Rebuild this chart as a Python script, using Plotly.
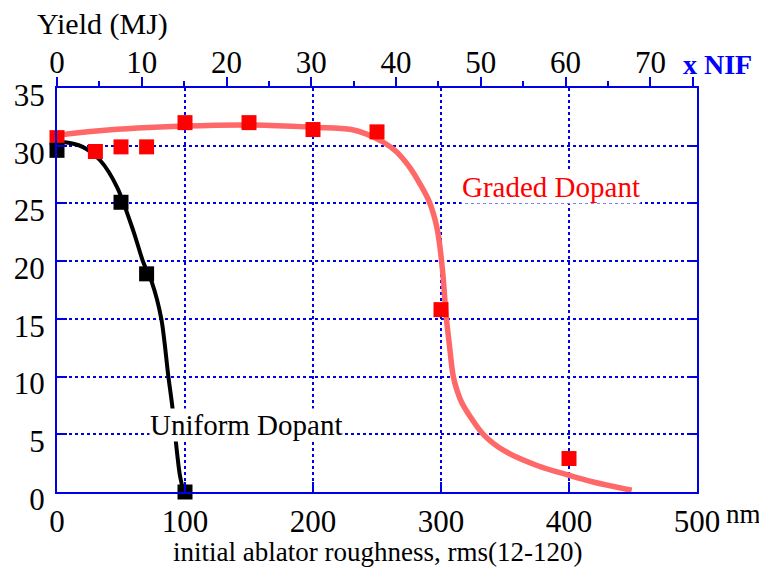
import plotly.graph_objects as go

# ---- data ----
graded_x = [0, 30, 50, 70, 100, 150, 200, 250, 300, 400]
graded_y = [30.7, 29.5, 29.9, 29.9, 32.0, 32.0, 31.4, 31.2, 15.8, 2.9]

uniform_x = [0, 50, 70, 100]
uniform_y = [29.6, 25.1, 18.9, 0.0]

graded_fit_x = [0, 33, 100, 150, 200, 230, 242, 255, 265, 275, 284, 291, 297, 301, 304,
                306.5, 309.6, 312.5, 316, 323, 333, 349, 375, 400, 419, 449]
graded_fit_y = [30.9, 31.3, 31.7, 31.8, 31.6, 31.4, 31.0, 30.3, 29.5, 28.2, 26.6, 25.1, 22.8, 19.4, 15.3,
                12.8, 10.0, 8.8, 7.8, 6.5, 5.0, 3.6, 2.3, 1.45, 0.87, 0.15]

uniform_fit_x = [0, 6, 20, 34, 47, 60, 67.4, 74, 81.5, 87, 90, 93, 96, 98.5]
uniform_fit_y = [30.2, 30.3, 29.9, 28.7, 26.4, 22.5, 19.9, 18.2, 15.0, 10.0, 7.5, 4.2, 1.45, 0.2]

x_ticks = [0, 100, 200, 300, 400, 500]
y_ticks = [0, 5, 10, 15, 20, 25, 30, 35]
nif_ticks = [0, 10, 20, 30, 40, 50, 60, 70, 75]
nif_labels = ["0", "10", "20", "30", "40", "50", "60", "70", ""]

BLUE = "#0000E6"
FONT = "Liberation Serif"
TICK = 31

fig = go.Figure()

fig.add_trace(go.Scatter(x=graded_fit_x, y=graded_fit_y, mode="lines",
                         line=dict(color="#FF6868", width=5.5, shape="spline", smoothing=1.0),
                         showlegend=False, hoverinfo="skip"))
fig.add_trace(go.Scatter(x=uniform_fit_x, y=uniform_fit_y, mode="lines",
                         line=dict(color="black", width=4, shape="spline", smoothing=0.8),
                         showlegend=False, hoverinfo="skip"))
fig.add_trace(go.Scatter(x=graded_x, y=graded_y, mode="markers",
                         marker=dict(symbol="square", size=15, color="#FF0000"),
                         cliponaxis=False, showlegend=False))
fig.add_trace(go.Scatter(x=uniform_x, y=uniform_y, mode="markers",
                         marker=dict(symbol="square", size=15, color="black"),
                         cliponaxis=False, showlegend=False))
# invisible trace for the top axis
fig.add_trace(go.Scatter(x=[0], y=[0], xaxis="x2", mode="markers",
                         marker=dict(opacity=0), showlegend=False, hoverinfo="skip"))

fig.update_layout(
    width=759, height=566,
    margin=dict(l=49, r=70, t=80, b=82),
    paper_bgcolor="white", plot_bgcolor="white",
    font=dict(family=FONT, size=TICK, color="black"),
    xaxis=dict(range=[0, 500], tickvals=x_ticks, ticktext=[str(v) for v in x_ticks],
               showline=True, linecolor=BLUE, linewidth=2, mirror=True,
               ticks="inside", ticklen=10, tickcolor=BLUE, tickwidth=1.5,
               showgrid=True, gridcolor=BLUE, gridwidth=1.5, griddash="3px,3px",
               zeroline=False, ticklabelstandoff=1, automargin=False,
               tickfont=dict(family=FONT, size=TICK, color="black")),
    yaxis=dict(range=[0, 35], tickvals=y_ticks, ticktext=[str(v) for v in y_ticks],
               showline=True, linecolor=BLUE, linewidth=2, mirror="ticks",
               ticks="inside", ticklen=10, tickcolor=BLUE, tickwidth=1.5,
               showgrid=True, gridcolor=BLUE, gridwidth=1.5, griddash="3px,3px",
               zeroline=False, ticklabelstandoff=4, ticklabelshift=7, automargin=False,
               tickfont=dict(family=FONT, size=TICK, color="black")),
    xaxis2=dict(range=[0, 75.5], overlaying="x", side="top", anchor="y",
                tickvals=nif_ticks, ticktext=nif_labels,
                showline=True, linecolor=BLUE, linewidth=2,
                ticks="outside", ticklen=9, tickcolor=BLUE, tickwidth=1.5,
                minor=dict(dtick=5, tick0=0, ticks="outside", ticklen=5, tickcolor=BLUE, tickwidth=1.5),
                showgrid=False, zeroline=False, ticklabelstandoff=-8, automargin=False,
                tickfont=dict(family=FONT, size=TICK, color="black")),
)

fig.add_annotation(text="Yield (MJ)", xref="paper", yref="paper", x=0.071, y=1.158,
                   showarrow=False, xanchor="center", yanchor="middle",
                   font=dict(family=FONT, size=30, color="black"))
fig.add_annotation(text="<b>x NIF</b>", xref="paper", yref="paper", x=1.032, y=1.057,
                   showarrow=False, xanchor="center", yanchor="middle",
                   font=dict(family=FONT, size=28, color="#0000FF"))
fig.add_annotation(text="nm", xref="paper", yref="paper", x=1.073, y=-0.054,
                   showarrow=False, xanchor="center", yanchor="middle",
                   font=dict(family=FONT, size=27, color="black"))
fig.add_annotation(text="initial ablator roughness, rms(12-120)", xref="paper", yref="paper",
                   x=0.5, y=-0.148, showarrow=False, xanchor="center", yanchor="middle",
                   font=dict(family=FONT, size=27, color="black"))
fig.add_annotation(text="Graded Dopant", x=386, y=26.4, showarrow=False,
                   xanchor="center", yanchor="middle", bgcolor="white", borderpad=0,
                   font=dict(family=FONT, size=29, color="#FF0000"))
fig.add_annotation(text="Uniform Dopant", x=148, y=5.8, showarrow=False,
                   xanchor="center", yanchor="middle", bgcolor="white", borderpad=0,
                   font=dict(family=FONT, size=29, color="black"))

fig.write_html("out.html")
